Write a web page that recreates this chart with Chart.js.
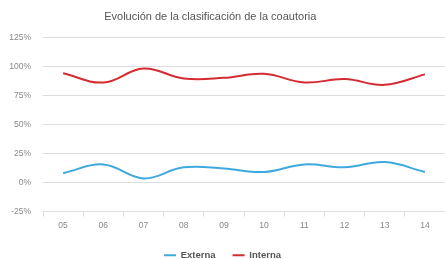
<!DOCTYPE html>
<html>
<head>
<meta charset="utf-8">
<script src="https://cdn.jsdelivr.net/npm/chart.js@4"></script>
<style>
  html, body { margin: 0; padding: 0; background: #fff; }
  canvas { display: block; }
</style>
</head>
<body>
<canvas id="grafico" width="445" height="259"></canvas>
<script>
const anos = ["05", "06", "07", "08", "09", "10", "11", "12", "13", "14"];
const externa = [8, 15.5, 3.5, 13, 12, 9, 15.5, 13, 17.5, 9];
const interna = [94, 86, 98, 89.5, 90, 93.5, 86, 89, 84, 93];
const ticksY = [-25, 0, 25, 50, 75, 100, 125];

const fonte = "Liberation Sans, Arial, sans-serif";
const ctx = document.getElementById("grafico").getContext("2d");

new Chart(ctx, {
  type: "line",
  data: {
    labels: anos,
    datasets: [
      {
        label: "Externa",
        data: externa,
        borderColor: "#3fa9dd",
        backgroundColor: "#3fa9dd",
        borderWidth: 2,
        pointRadius: 0,
        tension: 0.4,
        fill: false
      },
      {
        label: "Interna",
        data: interna,
        borderColor: "#d42b32",
        backgroundColor: "#d42b32",
        borderWidth: 2,
        pointRadius: 0,
        tension: 0.4,
        fill: false
      }
    ]
  },
  options: {
    responsive: false,
    animation: false,
    layout: { padding: { left: 0, right: 0, top: 2, bottom: -11 } },
    plugins: {
      title: {
        display: true,
        // trailing spaces nudge the centred title a little to the left, like the original
        text: "Evolución de la clasificación de la coautoria" + "\u00a0".repeat(8),
        color: "#555",
        font: { family: fonte, size: 11, weight: "normal" },
        padding: { top: 8, bottom: 14 }
      },
      legend: {
        position: "bottom",
        labels: {
          usePointStyle: true,
          pointStyle: "line",
          pointStyleWidth: 12,
          padding: 17,
          color: "#555",
          font: { family: fonte, size: 9.5, weight: "bold" }
        }
      },
      tooltip: { enabled: false }
    },
    scales: {
      x: {
        offset: true,
        afterFit: axis => { axis.height = 22; },
        grid: {
          display: true,
          drawOnChartArea: false,
          offset: true,
          tickLength: 5,
          color: "#ddd"
        },
        border: { display: false },
        ticks: {
          color: "#888",
          padding: 4,
          font: { family: fonte, size: 8.5 }
        }
      },
      y: {
        min: -25,
        max: 125,
        afterBuildTicks: axis => {
          axis.ticks = ticksY.map(v => ({ value: v }));
        },
        afterFit: axis => { axis.width = 43; },
        grid: {
          color: "#ddd",
          drawTicks: false
        },
        border: { display: false },
        ticks: {
          color: "#888",
          padding: 12,
          font: { family: fonte, size: 8.5 },
          callback: v => v + "%"
        }
      }
    }
  }
});
</script>
</body>
</html>
